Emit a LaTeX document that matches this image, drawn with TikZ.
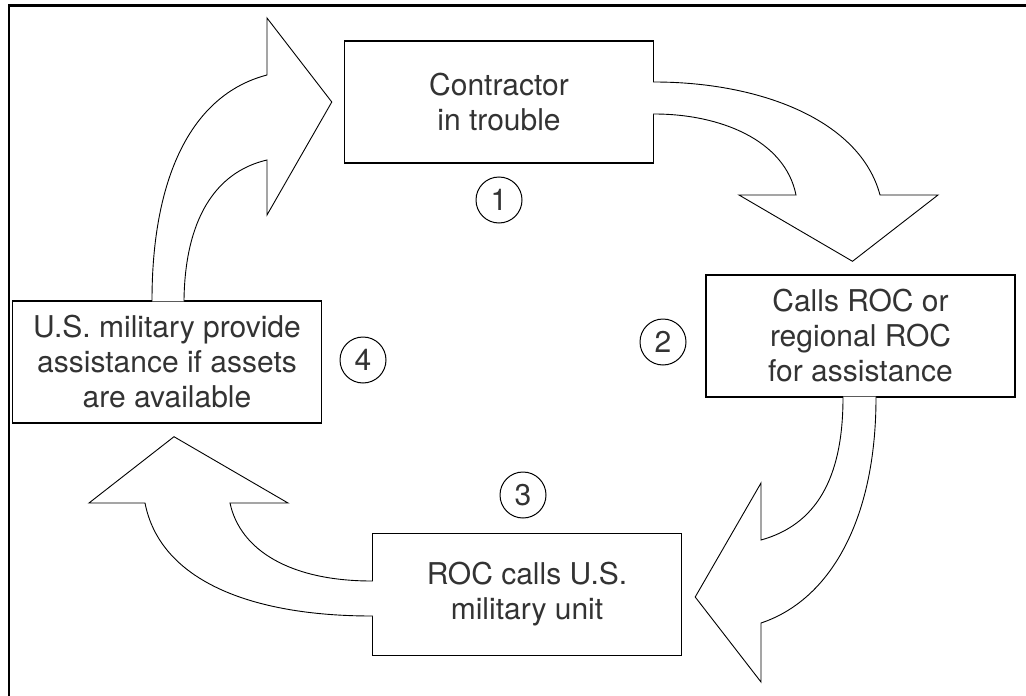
\documentclass[tikz,border=0pt]{standalone}
\usepackage{fontspec}
\setmainfont{TeX Gyre Heros}
\usetikzlibrary{calc}

\tikzset{
	box/.style={draw=black, line width=1.4pt, fill=white, minimum width=309pt, minimum height=122pt, align=center, text=black!80, font=\fontsize{30}{35}\selectfont},
	stepnum/.style={circle, draw=black, line width=1pt, minimum size=46pt, inner sep=0pt, text=black!80, font=\fontsize{30}{35}\selectfont},
	bigarrow/.style={draw=black, line width=0.9pt, fill=white}
}

\begin{document}
\begin{tikzpicture}[x=1pt,y=-1pt]
		\useasboundingbox (0,0) rectangle (1026,696);
		\draw[line width=2.5pt] (9,696) -- (9,5.7) -- (1026,5.7);
		
		\node[box] (contractor) at (499,102) {Contractor\\in trouble};
		\node[box] (callsroc) at (860.5,336) {Calls ROC or\\regional ROC\\for assistance};
		\node[box] (roccalls) at (527,594.5) {ROC calls U.S.\\military unit};
		\node[box] (military) at (167,362) {U.S. military provide\\assistance if assets\\are available};
		
		\node[stepnum] (n1) at (499,200) {1};
		\node[stepnum] (n2) at (663,342) {2};
		\node[stepnum] (n3) at (523,495) {3};
		\node[stepnum] (n4) at (363,360) {4};
		
		% military -> contractor
		\draw[bigarrow] ($(military.north)+(17,1)$) -- ($(military.north)+(17,0)$)
			.. controls (185,220) and (215,172) .. (267,160) -- (267,215)
			-- ($(contractor.west)+(-12,0)$) -- (267,18) -- (267,75)
			.. controls (190,95) and (152,180) .. ($(military.north)+(-15,0)$) -- ($(military.north)+(-15,1)$);
		
		% contractor -> callsroc
		\draw[bigarrow] ($(contractor.east)+(-1,-20)$) -- ($(contractor.east)+(0,-20)$)
			.. controls (760,82) and (860,120) .. (880,195) -- (938,195)
			-- ($(callsroc.north)+(-8,-13)$) -- (739,195) -- (796,195)
			.. controls (785,140) and (720,114) .. ($(contractor.east)+(0,12)$) -- ($(contractor.east)+(-1,12)$);
		
		% callsroc -> roccalls
		\draw[bigarrow] ($(callsroc.south)+(15.5,-1)$) -- ($(callsroc.south)+(15.5,0)$)
			.. controls (876,520) and (830,600) .. (761,623) -- (761,682)
			-- ($(roccalls.east)+(13,2.5)$) -- (761,483) -- (761,540)
			.. controls (815,525) and (843,480) .. ($(callsroc.south)+(-17.5,0)$) -- ($(callsroc.south)+(-17.5,-1)$);
		
		% roccalls -> military
		\draw[bigarrow] ($(roccalls.west)+(1,21.5)$) -- ($(roccalls.west)+(0,21.5)$)
			.. controls (250,616) and (160,580) .. (145,503) -- (89,503)
			-- ($(military.south)+(7,13)$) -- (288,503) -- (230,503)
			.. controls (240,550) and (290,581) .. ($(roccalls.west)+(0,-13.5)$) -- ($(roccalls.west)+(1,-13.5)$);
	\end{tikzpicture}
\end{document}
